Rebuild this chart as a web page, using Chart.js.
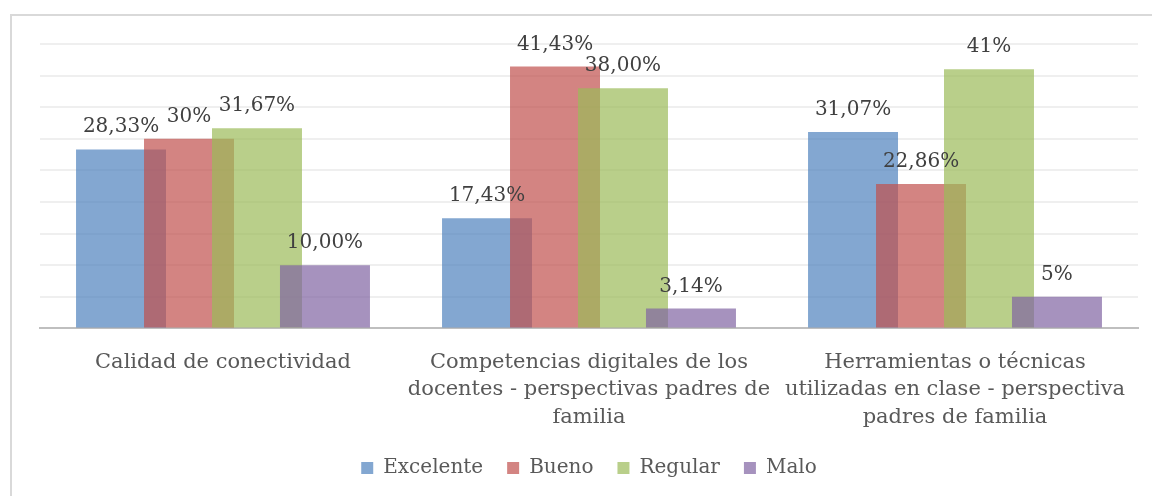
<!DOCTYPE html>
<html>
<head>
<meta charset="utf-8">
<script src="https://cdn.jsdelivr.net/npm/chart.js@4"></script>
<style>
  html, body { margin: 0; padding: 0; background: #ffffff; }
  #wrap { width: 1152px; height: 496px; position: relative; }
</style>
</head>
<body>
<div id="wrap"><canvas id="chart" width="1152" height="496"></canvas></div>
<script>
// Categories (multi-line axis labels)
const categories = [
  ['Calidad de conectividad'],
  ['Competencias digitales de los', 'docentes - perspectivas padres de', 'familia'],
  ['Herramientas o técnicas', 'utilizadas en clase - perspectiva', 'padres de familia']
];

// Series names
const seriesNames = ['Excelente', 'Bueno', 'Regular', 'Malo'];

// Series values (%)
const excelente = [28.33, 17.43, 31.07];
const bueno     = [30, 41.43, 22.86];
const regular   = [31.67, 38.00, 41];
const malo      = [10.00, 3.14, 5];

// Decimal places shown in each value label
const excelenteDecimals = [2, 2, 2];
const buenoDecimals     = [0, 2, 2];
const regularDecimals   = [2, 2, 0];
const maloDecimals      = [2, 2, 0];

// Value axis range
const yMin = 0;
const yMax = 45;
const yStep = 5;

const FONT = "'DejaVu Serif', 'Liberation Serif', serif";

const seriesColors = [
  'rgba(79, 129, 189, 0.7)',
  'rgba(192, 80, 77, 0.7)',
  'rgba(155, 187, 89, 0.7)',
  'rgba(128, 100, 162, 0.7)'
];

const seriesValues = [excelente, bueno, regular, malo];
const seriesDecimals = [excelenteDecimals, buenoDecimals, regularDecimals, maloDecimals];

const datasets = seriesNames.map((name, i) => ({
  label: name,
  data: seriesValues[i],
  decimals: seriesDecimals[i],
  backgroundColor: seriesColors[i],
  borderWidth: 0,
  categoryPercentage: 0.743,
  barPercentage: 1.3235
}));

// Light grey frame around the chart
const framePlugin = {
  id: 'frame',
  beforeDraw(chart) {
    const ctx = chart.ctx;
    ctx.save();
    ctx.fillStyle = '#ffffff';
    ctx.fillRect(0, 0, chart.width, chart.height);
    ctx.strokeStyle = '#d9d9d9';
    ctx.lineWidth = 2;
    ctx.strokeRect(11, 15, chart.width + 20, chart.height + 20);
    ctx.restore();
  }
};

// Paint the overlapping bars left-to-right so each later series sits on top
const seriesOrderPlugin = {
  id: 'seriesOrder',
  beforeDatasetDraw() {
    return false;
  },
  afterDatasetsDraw(chart) {
    const ctx = chart.ctx;
    const area = chart.chartArea;
    ctx.save();
    ctx.beginPath();
    ctx.rect(area.left, area.top - 2, area.right - area.left, area.bottom - area.top + 2);
    ctx.clip();
    chart.data.datasets.forEach((ds, i) => {
      const meta = chart.getDatasetMeta(i);
      if (!meta.hidden) meta.controller.draw();
    });
    ctx.restore();
  }
};

// Value labels above each bar
const valueLabelPlugin = {
  id: 'valueLabels',
  afterDatasetsDraw(chart) {
    const ctx = chart.ctx;
    ctx.save();
    ctx.font = '20px ' + FONT;
    ctx.fillStyle = '#404040';
    ctx.textAlign = 'center';
    ctx.textBaseline = 'alphabetic';
    chart.data.datasets.forEach((ds, di) => {
      const meta = chart.getDatasetMeta(di);
      meta.data.forEach((bar, idx) => {
        const v = ds.data[idx];
        const text = v.toFixed(ds.decimals[idx]).replace('.', ',') + '%';
        ctx.fillText(text, bar.x, bar.y - 17);
      });
    });
    ctx.restore();
  }
};

new Chart(document.getElementById('chart'), {
  type: 'bar',
  data: { labels: categories, datasets },
  options: {
    responsive: false,
    animation: false,
    layout: { padding: { left: 40, right: 14, top: 44, bottom: 8 } },
    plugins: {
      legend: {
        position: 'bottom',
        labels: {
          boxWidth: 12,
          boxHeight: 12,
          padding: 24,
          color: '#595959',
          font: { family: FONT, size: 20 }
        }
      },
      tooltip: { enabled: false }
    },
    scales: {
      x: {
        grid: { display: false, drawTicks: false },
        border: { display: true, color: '#bfbfbf', width: 2 },
        ticks: {
          color: '#595959',
          padding: 20,
          maxRotation: 0,
          autoSkip: false,
          font: { family: FONT, size: 21, lineHeight: 1.31 }
        },
        afterFit(scale) {
          scale.height = scale.height - 17;
        }
      },
      y: {
        min: yMin,
        max: yMax,
        ticks: { display: false, stepSize: yStep },
        grid: { color: '#efefef', lineWidth: 2, drawTicks: false },
        border: { display: false }
      }
    }
  },
  plugins: [framePlugin, seriesOrderPlugin, valueLabelPlugin]
});
</script>
</body>
</html>
